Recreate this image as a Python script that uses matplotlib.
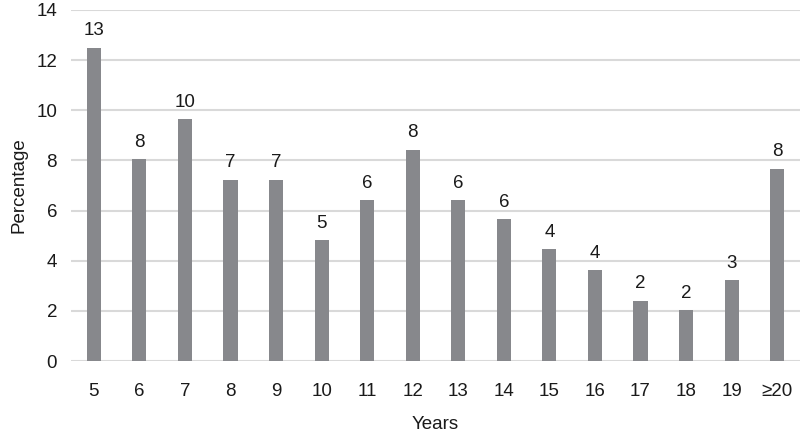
import matplotlib.pyplot as plt
import numpy as np

plt.rcParams["font.family"] = ["Liberation Sans", "DejaVu Sans"]

years = ["5", "6", "7", "8", "9", "10", "11", "12", "13", "14", "15",
         "16", "17", "18", "19", "≥20"]
percentage = [12.5, 8.05, 9.65, 7.23, 7.23, 4.83, 6.41, 8.43, 6.41, 5.65,
              4.45, 3.62, 2.41, 2.02, 3.23, 7.67]
labels = ["13", "8", "10", "7", "7", "5", "6", "8", "6", "6", "4", "4",
          "2", "2", "3", "8"]

fig = plt.figure(figsize=(8, 4.33), dpi=100)
ax = fig.add_axes([71 / 800, 1 - 361 / 433, 729 / 800, 351 / 433])

x = np.arange(len(years))
bars = ax.bar(x, percentage, width=0.31, color="#87888c", zorder=3)
for b, lab in zip(bars, labels):
    ax.annotate(lab, (b.get_x() + b.get_width() / 2, b.get_height()),
                xytext=(0, 6), textcoords="offset points",
                ha="center", va="bottom", fontsize=13.5, color="#1a1a1a")

ax.set_xlim(-0.5, len(years) - 0.5)
ax.set_ylim(0, 14)
ax.set_yticks(range(0, 15, 2))
ax.set_xticks(x)
ax.set_xticklabels(years)
ax.tick_params(axis="both", length=0, labelsize=13.5, colors="#1a1a1a")
ax.tick_params(axis="x", pad=15.5)
ax.tick_params(axis="y", pad=10)
ax.yaxis.grid(True, color="#d9d9d9", linewidth=1.5, zorder=0)
ax.set_axisbelow(True)
for s in ax.spines.values():
    s.set_visible(False)

ax.set_xlabel("Years", fontsize=13.5, color="#1a1a1a", labelpad=12)
ax.set_ylabel("Percentage", fontsize=13.5, color="#1a1a1a", labelpad=6)

plt.savefig("out.png", dpi=100)
